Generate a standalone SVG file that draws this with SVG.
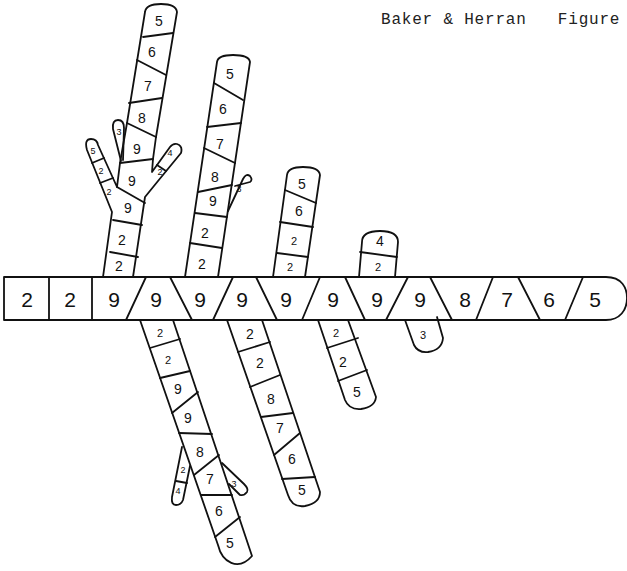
<svg xmlns="http://www.w3.org/2000/svg" width="627" height="571" viewBox="0 0 627 571">
<style>
.ln{fill:none;stroke:#111;stroke-width:1.8;stroke-linejoin:round;stroke-linecap:round}
.t{font-family:"Liberation Sans",Arial,sans-serif;fill:#111;text-anchor:middle;dominant-baseline:central}
.lg{font-size:21px}
.md{font-size:14px}
.sm{font-size:11px}
.xs{font-size:9px}
.hd{font-family:"Liberation Mono","Courier New",monospace;font-size:16px;letter-spacing:0.8px;fill:#222}
</style>
<rect width="627" height="571" fill="#fff"/>
<text class="hd" x="381" y="24" xml:space="preserve">Baker &amp; Herran   Figure</text>

<g id="main-chain">
<path class="ln" d="M4,277 L606,277 C622,277 627,288 627,298 C627,310 620,320 606,320 L4,320 Z"/>
<path class="ln" d="M49,277 L49,320 M92,277 L92,320 M146,277 L126,320 M170,277 L192,320 M233,277 L213,320 M256,277 L277,320 M320,277 L302,320 M345,277 L365,320 M408,277 L386,320 M430,277 L452,320 M493,277 L476,320 M518,277 L540,320 M583,277 L565,320"/>
<g class="t lg">
<text x="27" y="299">2</text><text x="70" y="299">2</text><text x="114" y="299">9</text><text x="156" y="299">9</text><text x="200" y="299">9</text><text x="242" y="299">9</text><text x="286" y="299">9</text><text x="333" y="299">9</text><text x="377" y="299">9</text><text x="420" y="299">9</text><text x="465" y="299">8</text><text x="507" y="299">7</text><text x="549" y="299">6</text><text x="595" y="299">5</text>
</g>
</g>

<g id="branch-a">
<path class="ln" d="M103,277 L112,212 L87,150 Q84,139 91,139 Q97,139 98,145 L117,187 L120,163 L127,123 L145,12 Q146,4 161,4 Q176,4 177,12 L156,137 L153,159 L152,172 L170,147 Q173,143 177,144 Q183,146 181,153 L158,181 L145,197 L133,277"/>
<path class="ln" d="M121,161 L113,129 Q112,120 118,120 Q124,120 124,128 L123,160"/>
<path class="ln" d="M143,37 L173,33 M137,60 L166,75 M129,103 L162,98 M127,123 L156,137 M120,163 L153,159 M117,187 L145,203 M113,220 L142,225 M110,252 L138,257 M92,163 L104,158 M100,183 L113,178 M157,165 L166,171"/>
<g class="t md">
<text x="159" y="21">5</text><text x="152" y="52">6</text><text x="148" y="86">7</text><text x="142" y="118">8</text><text x="137" y="149">9</text><text x="132" y="181">9</text><text x="128" y="208">9</text><text x="122" y="240">2</text><text x="119" y="266">2</text>
</g>
<g class="t xs">
<text x="93" y="151">5</text><text x="101" y="171">2</text><text x="109" y="192">2</text><text x="119" y="132">3</text><text x="170" y="153">4</text><text x="160" y="172">2</text>
</g>
</g>

<g id="branch-b">
<path class="ln" d="M185,277 L217,62 Q218,55 233,55 Q249,55 250,62 L218,277"/>
<path class="ln" d="M228,211 L243,179 Q246,173 250,176 Q253,180 250,182 L235,186"/>
<path class="ln" d="M214,83 L243,100 M207,127 L241,123 M204,148 L235,163 M198,192 L232,185 M195,213 L227,217 M190,243 L222,248"/>
<g class="t md">
<text x="230" y="74">5</text><text x="223" y="109">6</text><text x="220" y="144">7</text><text x="215" y="177">8</text><text x="213" y="201">9</text><text x="205" y="233">2</text><text x="202" y="264">2</text>
</g>
<text class="t xs" x="239" y="189">3</text>
</g>

<g id="branch-c">
<path class="ln" d="M273,277 L287,175 Q288,167 303,167 Q319,167 320,175 L305,277"/>
<path class="ln" d="M285,190 L316,203 M280,222 L313,227 M277,253 L308,257"/>
<g class="t md"><text x="302" y="184">5</text><text x="299" y="211">6</text></g>
<g class="t sm"><text x="294" y="241">2</text><text x="290" y="267">2</text></g>
</g>

<g id="branch-d">
<path class="ln" d="M359,277 L362,242 Q362,231 380,231 Q398,231 398,242 L395,277"/>
<path class="ln" d="M360,252 L397,257"/>
<text class="t md" x="380" y="241">4</text>
<text class="t sm" x="378" y="267">2</text>
</g>

<g id="branch-e">
<path class="ln" d="M140,320 L218,545 C222,562 238,572 252,556 L173,320"/>
<path class="ln" d="M182,447 L172,497 Q171,505 176,505 Q181,505 183,500 L190,466"/>
<path class="ln" d="M222,463 L244,484 Q249,489 247,492 Q244,496 240,495 L229,484"/>
<path class="ln" d="M150,348 L180,339 M160,378 L190,371 M172,413 L198,392 M179,433 L212,434 M194,475 L219,455 M201,495 L232,495 M215,537 L240,517 M176,481 L187,483"/>
<g class="t sm"><text x="160" y="333">2</text><text x="168" y="360">2</text></g>
<g class="t md"><text x="178" y="389">9</text><text x="188" y="418">9</text><text x="200" y="452">8</text><text x="210" y="479">7</text><text x="219" y="511">6</text><text x="230" y="543">5</text></g>
<g class="t xs"><text x="183" y="470">2</text><text x="178" y="491">4</text><text x="234" y="484">3</text></g>
</g>

<g id="branch-f">
<path class="ln" d="M227,320 L288,495 Q292,508 305,506 Q320,503 320,492 L262,320"/>
<path class="ln" d="M238,352 L270,342 M250,387 L280,375 M261,417 L293,413 M274,455 L300,433 M282,479 L315,477"/>
<g class="t md"><text x="250" y="334">2</text><text x="260" y="363">2</text><text x="271" y="399">8</text><text x="280" y="428">7</text><text x="292" y="459">6</text><text x="302" y="490">5</text></g>
</g>

<g id="branch-g">
<path class="ln" d="M318,320 L345,400 Q349,410 361,409 Q375,407 376,397 L348,320"/>
<path class="ln" d="M327,348 L358,338 M338,381 L367,370"/>
<g class="t sm"><text x="336" y="333">2</text></g>
<g class="t md"><text x="343" y="362">2</text><text x="357" y="392">5</text></g>
</g>

<g id="branch-h">
<path class="ln" d="M405,320 L414,345 Q418,353 428,352 Q442,350 443,338 L437,317"/>
<text class="t sm" x="423" y="335">3</text>
</g>
</svg>
